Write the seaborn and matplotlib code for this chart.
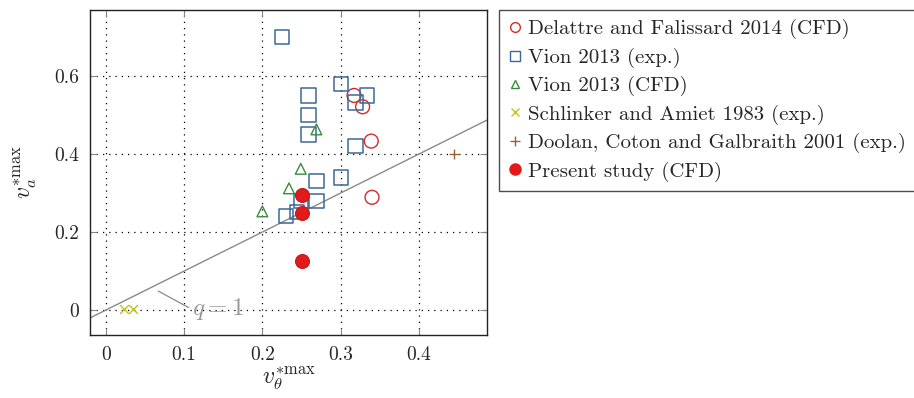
import matplotlib
matplotlib.use("Agg")
import matplotlib.pyplot as plt
from matplotlib.lines import Line2D
import seaborn as sns
import pandas as pd

# Maximum azimuthal / axial velocity pairs from each source
delattre_vt = [0.317, 0.328, 0.339, 0.340]
delattre_va = [0.550, 0.521, 0.433, 0.289]

vion_exp_vt = [0.225, 0.300, 0.259, 0.334, 0.319, 0.259, 0.259, 0.319, 0.300, 0.269, 0.269, 0.249, 0.230, 0.244]
vion_exp_va = [0.700, 0.580, 0.550, 0.550, 0.532, 0.500, 0.450, 0.421, 0.340, 0.330, 0.280, 0.280, 0.241, 0.252]

vion_cfd_vt = [0.269, 0.249, 0.234, 0.200]
vion_cfd_va = [0.463, 0.362, 0.312, 0.253]

schlinker_vt = [0.023, 0.035]
schlinker_va = [0.004, 0.004]

doolan_vt = [0.445]
doolan_va = [0.400]

present_vt = [0.25, 0.25, 0.25]
present_va = [0.295, 0.250, 0.125]

labels = [
    "Delattre and Falissard 2014 (CFD)",
    "Vion 2013 (exp.)",
    "Vion 2013 (CFD)",
    "Schlinker and Amiet 1983 (exp.)",
    "Doolan, Coton and Galbraith 2001 (exp.)",
    "Present study (CFD)",
]

x_ticks = [0, 0.1, 0.2, 0.3, 0.4]
x_tick_labels = ["0", "0.1", "0.2", "0.3", "0.4"]
y_ticks = [0, 0.2, 0.4, 0.6]
y_tick_labels = ["0", "0.2", "0.4", "0.6"]

sns.set_style("white")
plt.rcParams["font.family"] = ["cmr10", "DejaVu Serif"]
plt.rcParams["mathtext.fontset"] = "cm"
plt.rcParams["axes.formatter.use_mathtext"] = True

c_red = "#d62a2a"
c_blue = "#3c6896"
c_green = "#3d8a3d"
c_yellow = "#c2c21a"
c_brown = "#a0603a"
c_fill = "#e31a1c"
c_gray = "#8a8a8a"

fig = plt.figure(figsize=(9.14, 3.98), dpi=100)
ax = fig.add_axes([0.0985, 0.158, 0.4345, 0.817])

# q = 1 reference line
ax.plot([-0.05, 0.6], [-0.05, 0.6], color=c_gray, lw=1.0, zorder=1)

series = [
    (delattre_vt, delattre_va, "o", c_red, False, 100, 1.0),
    (vion_exp_vt, vion_exp_va, "s", c_blue, False, 105, 1.1),
    (vion_cfd_vt, vion_cfd_va, "^", c_green, False, 60, 1.0),
    (schlinker_vt, schlinker_va, "x", c_yellow, None, 40, 1.0),
    (doolan_vt, doolan_va, "+", c_brown, None, 60, 1.0),
    (present_vt, present_va, "o", c_fill, True, 100, 0.8),
]

for (xs, ys, mk, col, filled, size, lw), lab in zip(series, labels):
    df = pd.DataFrame({"vt": xs, "va": ys})
    if filled is None:
        sns.scatterplot(data=df, x="vt", y="va", marker=mk, color=col, s=size,
                        linewidths=lw, ax=ax, zorder=3, legend=False)
    elif filled:
        sns.scatterplot(data=df, x="vt", y="va", marker=mk, s=size,
                        facecolors=col, edgecolors="#c81818", linewidths=lw,
                        ax=ax, zorder=4, legend=False)
    else:
        sns.scatterplot(data=df, x="vt", y="va", marker=mk, s=size,
                        facecolors="none", edgecolors=col, linewidths=lw,
                        ax=ax, zorder=3, legend=False)

ax.set_xlim(-0.02, 0.487)
ax.set_ylim(-0.064, 0.769)
ax.set_xticks(x_ticks)
ax.set_xticklabels(x_tick_labels)
ax.set_yticks(y_ticks)
ax.set_yticklabels(y_tick_labels)
ax.grid(True, color="black", linestyle=(0, (1, 4)), linewidth=0.9)
ax.tick_params(axis="both", direction="in", length=5, width=0.8, color=c_gray,
               labelsize=14, pad=8, top=True, right=True, bottom=True, left=True)
for sp in ax.spines.values():
    sp.set_color("#222222")
    sp.set_linewidth(1.0)

ax.set_xlabel(r"$v_\theta^{*\mathrm{max}}$", fontsize=17, labelpad=0)
ax.set_ylabel(r"$v_a^{*\mathrm{max}}$", fontsize=17, labelpad=11)

# Annotation for the q = 1 line
ax.annotate(r"$q = 1$", xy=(0.067, 0.049), xytext=(0.110, 0.002),
            fontsize=18, color="#999999", va="center", ha="left",
            arrowprops=dict(arrowstyle="-", color=c_gray, lw=0.9,
                            shrinkA=0, shrinkB=0, relpos=(0.0, 0.5)))

handles = [
    Line2D([], [], ls="none", marker="o", ms=7, mfc="none", mec=c_red, mew=1.0),
    Line2D([], [], ls="none", marker="s", ms=7, mfc="none", mec=c_blue, mew=1.0),
    Line2D([], [], ls="none", marker="^", ms=6, mfc="none", mec=c_green, mew=1.0),
    Line2D([], [], ls="none", marker="x", ms=6, color=c_yellow, mew=1.0),
    Line2D([], [], ls="none", marker="+", ms=7, color=c_brown, mew=1.0),
    Line2D([], [], ls="none", marker="o", ms=8, mfc=c_fill, mec=c_fill),
]
leg = fig.legend(handles, labels, loc="upper left", bbox_to_anchor=(0.546, 0.975),
                 fontsize=15, frameon=True, fancybox=False, edgecolor="#222222",
                 handlelength=0.6, handletextpad=0.35, labelspacing=0.4,
                 borderpad=0.45, borderaxespad=0.0)
leg.get_frame().set_linewidth(1.0)

fig.savefig("out.png", dpi=100)
